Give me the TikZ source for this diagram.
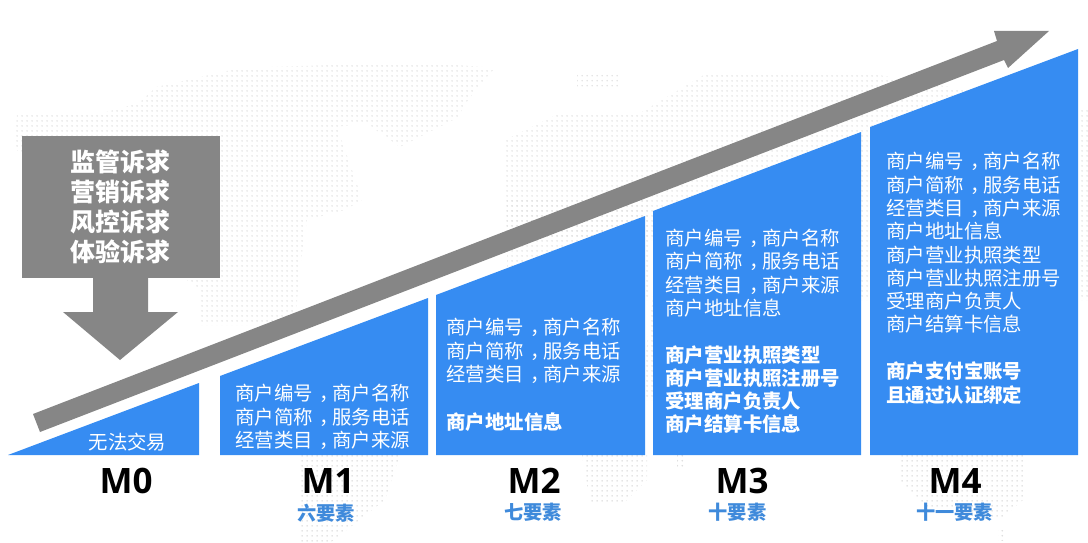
\documentclass[tikz,border=0pt]{standalone}
\usepackage{fontspec}
\usetikzlibrary{patterns}
\setmainfont{Noto Sans CJK SC}
\newfontfamily\latinb{Open Sans}[BoldFont={* Bold}]
\definecolor{blk}{HTML}{368CF2}
\definecolor{gry}{HTML}{868686}
\definecolor{subc}{HTML}{3F8ADB}
\definecolor{dotc}{HTML}{DCDCDC}
\newcommand\cm{\kern.33em，\kern-.33em}
\pgfdeclarepatternformonly{wdots}{\pgfqpoint{0pt}{0pt}}{\pgfqpoint{5pt}{5pt}}{\pgfqpoint{5pt}{5pt}}{%
  \pgfpathcircle{\pgfqpoint{2.5pt}{2.5pt}}{0.95pt}\pgfusepath{fill}}
\tikzset{
  mapdots/.style={pattern=wdots,pattern color=dotc},
  body/.style={anchor=west,inner sep=0pt,align=left,text=white,font=\fontsize{19.4}{23.3}\selectfont},
  bodyb/.style={body,font=\fontsize{19.4}{23.1}\selectfont\bfseries},
  mlabel/.style={inner sep=0pt,font=\fontsize{35}{35}\selectfont\latinb\bfseries},
  sublabel/.style={inner sep=0pt,text=subc,font=\fontsize{19.2}{19}\selectfont\bfseries},
  lead/.style={inner sep=0pt,align=center,text=white,font=\fontsize{25}{30}\selectfont\bfseries}
}
\begin{document}
\begin{tikzpicture}[x=1pt,y=-1pt]
\useasboundingbox (0,0) rectangle (1088,543);
% faint dotted world map
\path[mapdots] (17,115)--(95,115)--(139,103)--(156,87)--(240,68)--(421,62)--(495,68)--(478,87)--(463,107)--(459,117)--(400,147)--(366,123)--(337,127)--(358,187)--(362,200)--(345,210)--(307,220)--(300,267)--(295,325)--(200,325)--(200,290)--(13,147)--cycle;
\path[mapdots] (577,73)--(619,73)--(619,87)--(577,87)--cycle;
\path[mapdots] (560,113)--(640,113)--(707,73)--(867,73)--(1088,110)--(1088,300)--(860,300)--(860,400)--(640,400)--(660,240)--(505,240)--(505,140)--cycle;
\path[mapdots] (507,200)--(650,200)--(650,300)--(597,300)--(507,267)--cycle;
\path[mapdots] (582,455)--(647,455)--(647,480)--(625,502)--(590,502)--cycle;
\path[mapdots] (677,455)--(685,455)--(685,467)--(677,467)--cycle;
\path[mapdots] (899,455)--(1023,455)--(1023,500)--(1000,520)--(930,510)--(899,480)--cycle;
\path[mapdots] (300,455)--(400,455)--(385,500)--(330,543)--(300,543)--cycle;
\path[mapdots] (998,530)--(1004,530)--(1004,540)--(998,540)--cycle;
% main rising arrow
\fill[gry] (33,414)--(997,41)--(994,31)--(1049,31)--(1008,68)--(1004,60)--(40,432)--cycle;
% grey box and down arrow
\fill[gry] (22,136) rectangle (220,278);
\fill[gry] (93,278)--(148,278)--(148,312)--(178,312)--(120,360)--(63,312)--(93,312)--cycle;
% blue blocks
\fill[blk] (8,455)--(199,383)--(199,455)--cycle;
\fill[blk] (220,455)--(220,376)--(428,298)--(428,455)--cycle;
\fill[blk] (436,455)--(436,295)--(645,216)--(645,455)--cycle;
\fill[blk] (653,455)--(653,211)--(861,132)--(861,455)--cycle;
\fill[blk] (870,455)--(870,127)--(1078,49)--(1078,455)--cycle;
% texts
\node[lead] (lead) at (120.5,207) {监管诉求\\营销诉求\\风控诉求\\体验诉求};
\node[body,anchor=center] (t0) at (127.5,442) {无法交易};
\node[body] (t1) at (235.3,417) {商户编号\cm 商户名称\\商户简称\cm 服务电话\\经营类目\cm 商户来源};
\node[body] (t2) at (446.3,351) {商户编号\cm 商户名称\\商户简称\cm 服务电话\\经营类目\cm 商户来源};
\node[bodyb] (t2b) at (446.3,422) {商户地址信息};
\node[body] (t3) at (665.3,273) {商户编号\cm 商户名称\\商户简称\cm 服务电话\\经营类目\cm 商户来源\\商户地址信息};
\node[bodyb] (t3b) at (665.3,389.5) {商户营业执照类型\\商户营业执照注册号\\受理商户负责人\\商户结算卡信息};
\node[body] (t4) at (886.3,243) {商户编号\cm 商户名称\\商户简称\cm 服务电话\\经营类目\cm 商户来源\\商户地址信息\\商户营业执照类型\\商户营业执照注册号\\受理商户负责人\\商户结算卡信息};
\node[bodyb] (t4b) at (886.3,383) {商户支付宝账号\\且通过认证绑定};
% stage labels
\node[mlabel] (m0) at (126,481) {M0};
\node[mlabel] (m1) at (328,481) {M1};
\node[mlabel] (m2) at (534,481) {M2};
\node[mlabel] (m3) at (742,481) {M3};
\node[mlabel] (m4) at (955,481) {M4};
\node[sublabel] (s1) at (326,513) {六要素};
\node[sublabel] (s2) at (533,512) {七要素};
\node[sublabel] (s3) at (737.5,512) {十要素};
\node[sublabel] (s4) at (954.5,512) {十一要素};
\end{tikzpicture}
\end{document}
